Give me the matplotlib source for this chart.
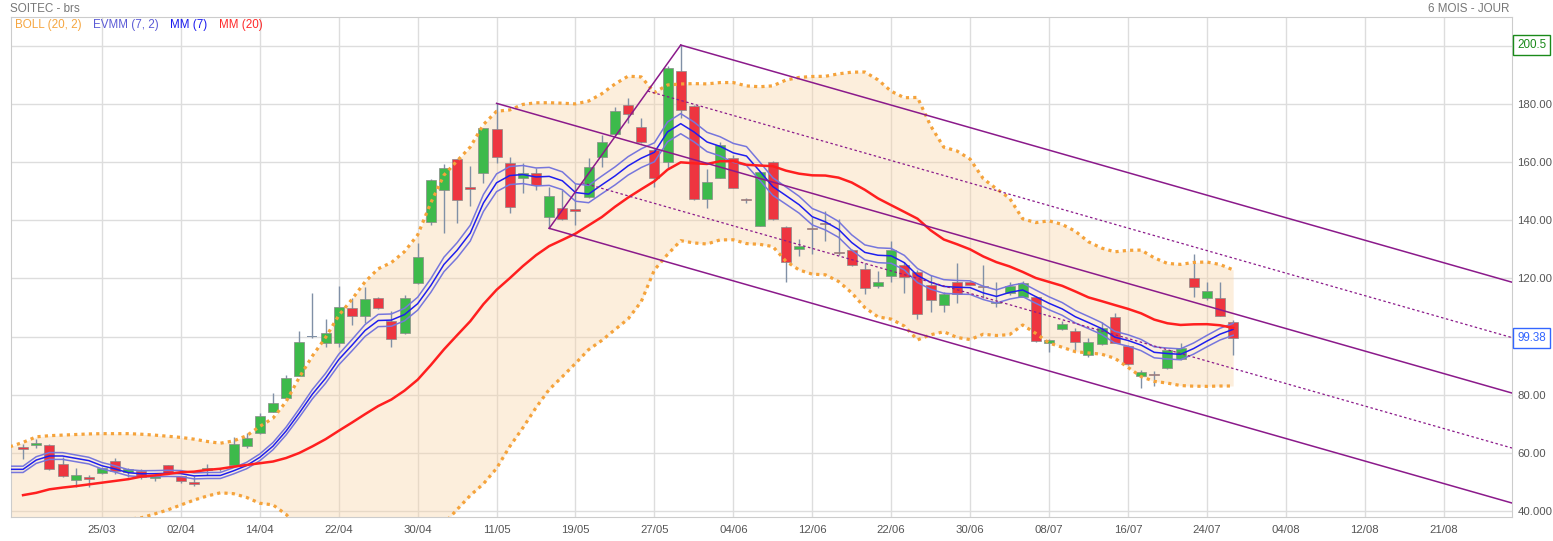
import numpy as np
import pandas as pd
import matplotlib
matplotlib.use("Agg")
import matplotlib.pyplot as plt
import matplotlib.transforms as mtransforms

plt.rcParams['font.family'] = ['Liberation Sans', 'DejaVu Sans']

# daily candles, one per trading session (index 0..92)
opens = [62.0, 62.5, 62.5, 55.9, 50.4, 51.4, 52.8, 57.1, 53.3, 53.7,
         51.1, 55.6, 51.8, 49.7, 54.0, 54.3, 55.8, 62.1, 66.6, 74.1,
         78.7, 86.5, 99.9, 97.9, 97.7, 109.7, 107.0, 113.2, 105.3, 101.3,
         118.3, 139.6, 150.4, 161.1, 151.7, 156.3, 171.4, 159.9, 154.6, 156.3,
         141.1, 144.2, 143.8, 148.2, 162.0, 169.7, 179.8, 172.1, 164.3, 160.1,
         191.6, 179.5, 147.3, 154.8, 161.4, 147.2, 138.2, 160.1, 137.7, 130.1,
         137.2, 139.1, 129.1, 129.8, 123.2, 117.5, 121.0, 124.7, 122.3, 117.8,
         110.8, 118.9, 118.9, 117.3, 111.4, 115.1, 113.7, 113.5, 97.7, 102.5,
         101.9, 93.6, 97.3, 106.6, 96.8, 86.4, 87.2, 89.0, 92.2, 120.1,
         113.2, 113.4, 104.9]
highs = [62.8, 64.5, 62.8, 58.3, 54.6, 52.2, 55.0, 58.0, 54.6, 54.2,
         52.4, 55.8, 52.0, 51.9, 56.0, 54.8, 65.2, 66.6, 73.5, 80.4,
         86.7, 101.9, 115.1, 106.0, 117.4, 113.2, 117.2, 113.5, 108.8, 114.3,
         132.1, 154.2, 159.5, 161.3, 158.8, 172.0, 180.4, 161.8, 159.9, 158.0,
         151.7, 150.5, 152.8, 161.4, 169.5, 179.2, 182.1, 175.2, 164.9, 193.4,
         200.5, 179.8, 157.8, 167.0, 162.6, 147.7, 157.0, 160.6, 138.0, 133.5,
         141.1, 143.3, 140.4, 130.0, 125.2, 122.7, 132.9, 125.7, 122.9, 121.2,
         115.3, 125.4, 119.1, 124.7, 118.7, 118.9, 119.0, 113.8, 99.2, 105.3,
         102.8, 99.4, 105.1, 108.2, 97.0, 88.4, 88.2, 95.5, 97.7, 128.4,
         118.7, 118.7, 105.7]
lows = [57.7, 61.7, 54.0, 51.5, 48.2, 48.0, 52.6, 52.5, 51.7, 50.8,
        50.3, 52.6, 49.4, 48.4, 52.2, 53.6, 55.6, 61.4, 66.3, 73.8,
        78.5, 86.3, 99.4, 96.5, 96.5, 104.0, 104.6, 109.5, 96.5, 101.0,
        118.0, 138.4, 135.8, 139.0, 145.1, 152.8, 159.7, 142.5, 149.6, 150.5,
        137.3, 140.2, 138.4, 147.7, 158.3, 169.5, 173.7, 166.8, 151.7, 158.0,
        175.4, 147.0, 144.4, 154.5, 151.1, 145.9, 138.0, 140.2, 118.9, 127.8,
        128.4, 133.0, 128.1, 124.3, 114.7, 116.7, 118.9, 114.9, 105.9, 108.6,
        108.6, 111.7, 117.6, 113.2, 110.1, 114.3, 113.5, 98.2, 94.8, 102.2,
        95.3, 93.0, 97.0, 97.7, 90.2, 82.1, 83.0, 88.8, 92.0, 113.7,
        112.6, 107.1, 93.6]
closes = [61.3, 63.3, 54.2, 51.8, 52.1, 50.7, 54.6, 53.6, 54.2, 51.7,
          52.1, 52.8, 50.1, 49.0, 54.6, 54.3, 62.9, 64.9, 72.6, 77.0,
          85.6, 98.0, 99.9, 101.1, 110.1, 107.0, 112.8, 109.7, 99.0, 113.2,
          127.4, 153.9, 158.0, 147.0, 151.0, 171.8, 162.0, 144.8, 156.3, 152.2,
          148.4, 140.4, 143.4, 158.3, 167.0, 177.8, 176.6, 167.0, 154.6, 192.7,
          178.0, 147.3, 153.3, 166.0, 151.3, 147.0, 156.6, 140.4, 125.6, 131.2,
          137.0, 138.9, 128.9, 124.8, 116.6, 118.7, 129.8, 120.6, 107.8, 112.6,
          114.7, 114.7, 117.8, 117.1, 112.0, 117.5, 118.6, 98.4, 98.8, 104.2,
          98.2, 98.0, 103.0, 97.9, 90.4, 87.7, 86.6, 95.3, 96.1, 117.0,
          115.7, 107.2, 99.38]

date_labels = ["25/03", "02/04", "14/04", "22/04", "30/04", "11/05", "19/05", "27/05", "04/06",
               "12/06", "22/06", "30/06", "08/07", "16/07", "24/07", "04/08", "12/08", "21/08"]
date_idx = [6, 12, 18, 24, 30, 36, 42, 48, 54, 60, 66, 72, 78, 84, 90, 96, 102, 108]

mm7_start = [54.2, 54.2, 57.4, 58.8, 58.8, 58.0, 57.2]          # bars -1..5
mm20_start = [45.3, 46.1, 47.3, 47.9, 48.4, 49.0, 49.6, 50.2, 50.8, 51.7,
              52.1, 52.6, 53.2, 53.4, 54.0, 54.4, 55.1, 55.7, 56.3]   # bars 0..18
boll_up_start = [62.0, 63.5, 65.4, 65.8, 66.0, 66.2, 66.4, 66.5, 66.5, 66.5,
                 66.3, 66.0, 65.6, 65.2, 64.6, 63.8, 63.2, 64.0, 65.8, 69.0]  # bars -1..18
boll_lo_start = [30.0, 30.5, 31.0, 32.0, 33.0, 34.0, 35.0, 36.0, 36.5, 37.0,
                 37.5, 38.8, 40.2, 41.9, 43.6, 45.0, 46.1, 45.8, 44.5, 42.5]  # bars -1..18

# drawn channel: anchors (bar, price) for middle / upper / lower lines
chan_idx = [36, 50, 40]
chan_px = [180.4, 200.5, 137.3]
chan_slope = -1.294

n = len(closes)
idx = np.arange(n)
c = pd.Series(closes)
mm7 = c.rolling(7).mean().to_numpy()
mm7[:6] = mm7_start[1:]
mm7 = np.r_[mm7_start[0], mm7]
mm20 = c.rolling(20).mean().to_numpy()
mm20[:19] = mm20_start
sd = c.rolling(20).std(ddof=0).to_numpy()
bup = mm20 + 2 * sd
blo = mm20 - 2 * sd
bup[:19] = boll_up_start[1:]
blo[:19] = boll_lo_start[1:]
bup = np.r_[boll_up_start[0], bup]
blo = np.r_[boll_lo_start[0], blo]
x_ext = np.arange(-1, n)

xmin, xmax = -0.94, 113.2
ymin, ymax = 37.76, 210.17

W, H = 1553, 541
fig = plt.figure(figsize=(W / 100, H / 100), dpi=100)
ax = fig.add_axes([10.7 / W, 1 - 517 / H, (1512 - 10.7) / W, 500 / H])
ax.set_xlim(xmin, xmax)
ax.set_ylim(ymin, ymax)

grid_c = '#dddddd'
for v in range(40, 201, 20):
    ax.axhline(v, color=grid_c, lw=1, zorder=0)
for i in date_idx:
    ax.axvline(i, color=grid_c, lw=1, zorder=0)

# bollinger band
ax.fill_between(x_ext, blo, bup, color='#f9d3a5', alpha=0.38, lw=0, zorder=1)
boll_c = '#f5a33b'
for band in (bup, blo):
    ax.plot(x_ext, band, color=boll_c, lw=2.3, ls=(0, (1, 1.3)), zorder=5)

# candles
o = np.array(opens); cl = np.array(closes)
up_day = cl > o
down_day = cl < o
flat = ~(up_day | down_day)
ax.vlines(idx, lows, highs, color='#8090a6', lw=1, zorder=2)
body_lo = np.minimum(o, cl)
body_h = np.maximum(np.abs(cl - o), 0.35)
ax.bar(idx[up_day], body_h[up_day], 0.76, body_lo[up_day], color='#3dba4b',
       edgecolor='#8a8a8a', lw=0.5, zorder=3)
ax.bar(idx[down_day], body_h[down_day], 0.76, body_lo[down_day], color='#ee3540',
       edgecolor='#8a8a8a', lw=0.5, zorder=3)
ax.bar(idx[flat], body_h[flat], 0.76, body_lo[flat], color='#8090a6', lw=0, zorder=3)

# moving averages
ax.plot(x_ext, mm7 * (1 + 2 / 100), color='#7676dc', lw=1.1, zorder=4)
ax.plot(x_ext, mm7 * (1 - 2 / 100), color='#7676dc', lw=1.1, zorder=4)
ax.plot(x_ext, mm7, color='#1f1fef', lw=1.1, zorder=4)
ax.plot(idx, mm20, color='#ff1f1f', lw=1.8, zorder=4)

# channel
purple = '#8b1a8b'
for a, p in zip(chan_idx, chan_px):
    xs = np.array([a, xmax])
    ax.plot(xs, p + chan_slope * (xs - a), color=purple, lw=1.1, zorder=6)
# diagonal between lower and upper anchors
ax.plot([chan_idx[2], chan_idx[1]], [chan_px[2], chan_px[1]], color=purple, lw=1.1, zorder=6)
diag_slope = (chan_px[1] - chan_px[2]) / (chan_idx[1] - chan_idx[2])
for j, k in ((0, 1), (0, 2)):
    ma = (chan_idx[j] + chan_idx[k]) / 2
    mp = (chan_px[j] + chan_px[k]) / 2
    t0 = (mp - chan_slope * ma - chan_px[2] + diag_slope * chan_idx[2]) / (diag_slope - chan_slope)
    xs = np.array([t0, xmax])
    ax.plot(xs, mp + chan_slope * (xs - ma), color=purple, lw=0.9, ls=(0, (2, 2)), zorder=6)

# axes styling
for s in ax.spines.values():
    s.set_color('#cccccc')
ax.yaxis.tick_right()
yt = list(range(40, 201, 20))
ylab = ['40.000', '60.00', '80.00', '', '120.00', '140.00', '160.00', '180.00', '']
ax.set_yticks(yt)
ax.set_yticklabels(ylab)
ax.set_xticks(date_idx)
ax.set_xticklabels(date_labels)
ax.tick_params(axis='y', length=0, pad=4, labelsize=8.2, labelcolor='#555555')
ax.tick_params(axis='x', length=0, pad=6, labelsize=8.2, labelcolor='#555555')

trans = mtransforms.blended_transform_factory(ax.transAxes, ax.transData)
ax.text(1 + 5 / 1501, max(highs), f"{max(highs):g}", transform=trans, ha='left', va='center',
        fontsize=8.4, color='#1a8a1a', clip_on=False,
        bbox=dict(boxstyle='square,pad=0.35', fc='white', ec='#1a8a1a', lw=1))
ax.text(1 + 5 / 1501, closes[-1], f"{closes[-1]:.2f}", transform=trans, ha='left', va='center',
        fontsize=8.4, color='#3366ff', clip_on=False,
        bbox=dict(boxstyle='square,pad=0.35', fc='white', ec='#3366ff', lw=1))

# header texts
fig.text(10 / W, 1 - 9 / H, "SOITEC - brs", fontsize=8.4, color='#777777', va='center', ha='left')
fig.text(1509 / W, 1 - 9 / H, "6 MOIS - JOUR", fontsize=8.4, color='#777777', va='center', ha='right')
legend = [("BOLL (20, 2)", '#f6a640', 15), ("EVMM (7, 2)", '#5b5bd6', 93),
          ("MM (7)", '#1a1aee', 170), ("MM (20)", '#ff2a2a', 219)]
for txt, col, px in legend:
    fig.text(px / W, 1 - 25 / H, txt, fontsize=8.4, color=col, va='center', ha='left')

fig.savefig("out.png", dpi=100)
